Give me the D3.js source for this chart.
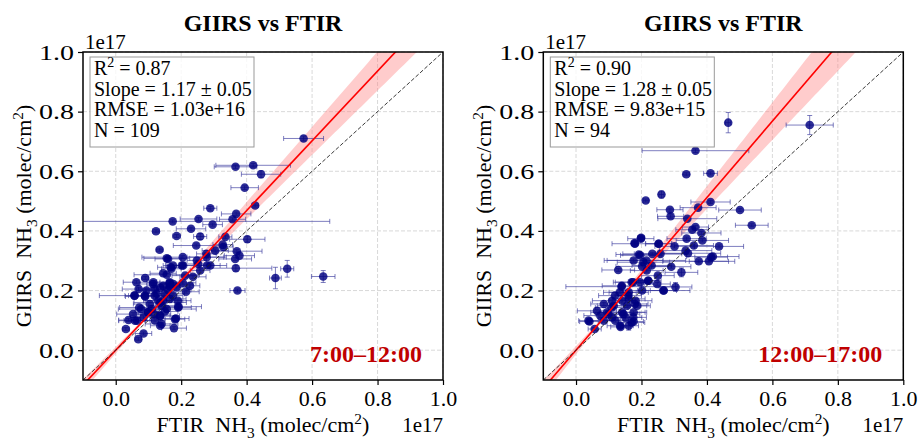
<!DOCTYPE html>
<html>
<head>
<meta charset="utf-8">
<script src="https://cdn.jsdelivr.net/npm/d3@7"></script>
<style>
body { margin: 0; background: #fff; }
text { font-family: "Liberation Serif", "Times New Roman", serif; }
</style>
</head>
<body>
<svg id="chart" width="920" height="443"></svg>
<script>
// values in units of 1e17 molec/cm2
// panel 1: 7:00-12:00
var ftir1  = [0.574,0.366,0.420,0.444,0.394,0.426,0.289,0.368,0.253,0.174,0.357,0.296,0.230,0.123,0.186,0.258,0.402,0.335,0.246,0.134,
              0.304,0.329,0.370,0.378,0.205,0.156,0.248,0.202,0.168,0.279,0.367,0.524,0.488,0.634,0.372,0.212,0.156,0.090,0.115,0.070,
              0.057,0.090,0.125,0.166,0.176,0.136,0.190,0.136,0.072,0.110,0.156,0.192,0.136,0.118,0.085,0.039,0.059,0.184,0.031,0.085,
              0.069,0.136,0.178,0.258,0.227,0.205,0.063,0.145,0.058,0.119,0.150,0.175,0.104,0.140,0.078,0.053,0.099,0.181,0.065,0.140,
              0.145,0.165,0.094,0.160,0.186,0.130,0.160,0.175,0.206,0.145,0.170,0.165,0.119,0.252,0.277,0.327,0.365,0.278,0.289,0.114,
              0.165,0.089,0.191,0.135,0.099,0.236,0.215,0.150,0.120];
var giirs1 = [0.710,0.615,0.620,0.590,0.545,0.485,0.476,0.457,0.440,0.432,0.439,0.421,0.407,0.399,0.383,0.381,0.372,0.380,0.351,0.337,
              0.334,0.346,0.332,0.317,0.312,0.308,0.301,0.284,0.278,0.284,0.275,0.273,0.242,0.247,0.200,0.250,0.253,0.242,0.228,0.205,
              0.183,0.180,0.189,0.213,0.222,0.209,0.166,0.160,0.143,0.138,0.138,0.146,0.115,0.121,0.110,0.101,0.099,0.106,0.071,0.056,
              0.037,0.082,0.074,0.267,0.216,0.226,0.228,0.216,0.183,0.183,0.189,0.183,0.155,0.149,0.138,0.121,0.127,0.104,0.099,0.088,
              0.166,0.172,0.200,0.202,0.211,0.166,0.306,0.284,0.284,0.258,0.273,0.228,0.205,0.289,0.323,0.354,0.306,0.312,0.284,0.222,
              0.224,0.183,0.143,0.115,0.127,0.246,0.196,0.130,0.100];
var xerr1  = [0.061,0.065,0.114,0.060,0.042,0.010,0.020,0.045,0.056,0.480,0.040,0.030,0.045,0.010,0.012,0.020,0.054,0.020,0.070,0.010,
              0.040,0.030,0.077,0.046,0.125,0.070,0.030,0.050,0.040,0.040,0.110,0.020,0.018,0.036,0.023,0.040,0.100,0.010,0.020,0.050,
              0.107,0.060,0.040,0.050,0.060,0.030,0.040,0.080,0.060,0.050,0.090,0.070,0.030,0.050,0.040,0.030,0.050,0.040,0.010,0.025,
              0.010,0.030,0.038,0.030,0.030,0.040,0.040,0.050,0.030,0.040,0.060,0.030,0.050,0.040,0.070,0.050,0.040,0.030,0.040,0.050,
              0.060,0.050,0.030,0.070,0.040,0.040,0.040,0.030,0.050,0.040,0.030,0.040,0.050,0.040,0.030,0.030,0.050,0.060,0.050,0.040,
              0.030,0.050,0.040,0.060,0.030,0.040,0.040,0.040,0.030];
var yerr1  = [0.008,0.006,0.006,0.012,0.006,0.005,0.006,0.006,0.005,0.005,0.005,0.005,0.005,0.005,0.005,0.010,0.010,0.005,0.005,0.005,
              0.005,0.005,0.005,0.005,0.005,0.005,0.005,0.005,0.005,0.005,0.010,0.028,0.036,0.020,0.005,0.005,0.005,0.005,0.005,0.005,
              0.005,0.005,0.005,0.005,0.005,0.005,0.005,0.005,0.005,0.005,0.005,0.005,0.005,0.005,0.005,0.005,0.005,0.005,0.005,0.005,
              0.005,0.005,0.005,0.005,0.005,0.005,0.005,0.005,0.005,0.005,0.005,0.005,0.005,0.005,0.005,0.005,0.005,0.005,0.005,0.005,
              0.005,0.005,0.005,0.005,0.005,0.005,0.005,0.005,0.005,0.005,0.005,0.005,0.005,0.005,0.005,0.005,0.005,0.005,0.005,0.005,
              0.005,0.005,0.005,0.005,0.005,0.005,0.005,0.005,0.005];

// panel 2: 12:00-17:00
var ftir2  = [0.465,0.714,0.365,0.337,0.411,0.261,0.213,0.411,0.373,0.287,0.501,0.289,0.340,0.537,0.355,0.365,0.383,0.338,0.386,0.199,
              0.179,0.253,0.301,0.360,0.437,0.335,0.342,0.192,0.233,0.258,0.413,0.418,0.375,0.406,0.215,0.176,0.202,0.291,0.129,0.322,
              0.250,0.220,0.174,0.304,0.248,0.202,0.268,0.139,0.134,0.161,0.161,0.110,0.141,0.182,0.085,0.115,0.156,0.187,0.064,0.095,
              0.141,0.176,0.074,0.110,0.151,0.041,0.085,0.120,0.176,0.057,0.136,0.161,0.180,0.198,0.252,0.196,0.206,0.231,0.216,0.140,
              0.170,0.221,0.196,0.267,0.119,0.160,0.180,0.109,0.099,0.145,0.175,0.038,0.135,0.170];
var giirs2 = [0.763,0.755,0.669,0.590,0.593,0.522,0.502,0.497,0.478,0.471,0.470,0.449,0.441,0.419,0.404,0.413,0.393,0.374,0.368,0.377,
              0.359,0.357,0.348,0.351,0.348,0.334,0.325,0.321,0.323,0.323,0.312,0.314,0.298,0.298,0.301,0.301,0.281,0.280,0.269,0.261,
              0.250,0.233,0.228,0.212,0.222,0.200,0.200,0.213,0.194,0.194,0.172,0.166,0.166,0.166,0.155,0.149,0.149,0.149,0.132,0.127,
              0.127,0.127,0.116,0.110,0.110,0.096,0.099,0.099,0.096,0.071,0.078,0.082,0.357,0.374,0.357,0.318,0.295,0.284,0.267,0.216,
              0.228,0.233,0.228,0.200,0.183,0.183,0.155,0.143,0.121,0.121,0.110,0.099,0.082,0.093];
var xerr2  = [0.008,0.072,0.163,0.010,0.021,0.008,0.008,0.060,0.055,0.040,0.065,0.040,0.090,0.050,0.050,0.040,0.060,0.060,0.080,0.010,
              0.010,0.040,0.060,0.060,0.075,0.080,0.100,0.070,0.090,0.080,0.050,0.080,0.110,0.060,0.120,0.090,0.080,0.060,0.050,0.050,
              0.050,0.040,0.060,0.050,0.040,0.060,0.080,0.170,0.050,0.060,0.050,0.060,0.040,0.050,0.040,0.050,0.060,0.040,0.060,0.050,
              0.070,0.040,0.050,0.040,0.050,0.030,0.050,0.040,0.030,0.020,0.030,0.030,0.070,0.040,0.040,0.060,0.080,0.060,0.050,0.060,
              0.050,0.030,0.030,0.040,0.050,0.040,0.040,0.050,0.040,0.050,0.040,0.030,0.040,0.040];
var yerr2  = [0.034,0.032,0.006,0.005,0.005,0.012,0.005,0.005,0.005,0.005,0.005,0.005,0.005,0.005,0.005,0.005,0.005,0.005,0.005,0.005,
              0.005,0.005,0.005,0.005,0.005,0.005,0.005,0.005,0.005,0.005,0.005,0.005,0.005,0.005,0.005,0.005,0.005,0.005,0.005,0.015,
              0.005,0.005,0.005,0.015,0.005,0.005,0.005,0.005,0.005,0.005,0.005,0.005,0.005,0.005,0.005,0.005,0.005,0.005,0.005,0.005,
              0.005,0.005,0.005,0.005,0.005,0.005,0.005,0.005,0.005,0.005,0.005,0.015,0.005,0.005,0.005,0.005,0.005,0.005,0.005,0.005,
              0.005,0.005,0.005,0.005,0.005,0.005,0.005,0.005,0.005,0.005,0.005,0.005,0.005,0.005];

var slopes = [1.17, 1.28];
var intercepts = [0.0, 0.0];
var bandSpread = [0.093, 0.125];
var bandPivot = [0.1, 0.1];
var r2 = ["0.87", "0.90"];
var slopeText = ["1.17 \u00b1 0.05", "1.28 \u00b1 0.05"];
var rmseText = ["1.03e+16", "9.83e+15"];
var nText = ["109", "94"];
var periods = ["7:00\u201312:00", "12:00\u201317:00"];
var ticks = [0.0, 0.2, 0.4, 0.6, 0.8, 1.0];
var tickLabels = ["0.0", "0.2", "0.4", "0.6", "0.8", "1.0"];

var svg = d3.select('#chart');
var fs = 22;

function rich(t, parts, size) {
	var shift = 0;
	parts.forEach(function (p) {
		var s = p[1] === 'sup' ? -0.38 * size : (p[1] === 'sub' ? 0.25 * size : 0);
		t.append('tspan').attr('dy', s - shift).attr('font-size', s ? size * 0.7 : size).text(p[0]);
		shift = s;
	});
}

var panels = [
	{x: ftir1, y: giirs1, xe: xerr1, ye: yerr1, left: 83},
	{x: ftir2, y: giirs2, xe: xerr2, ye: yerr2, left: 543.3}
];

panels.forEach(function (p, k) {
	var x0 = p.left, x1 = p.left + 360, y0 = 52, y1 = 380;
	var x = d3.scaleLinear().domain([-0.1, 1.0]).range([x0, x1]);
	var y = d3.scaleLinear().domain([-0.1, 1.0]).range([y1, y0]);
	var g = svg.append('g');

	g.append('clipPath').attr('id', 'clip' + k)
		.append('rect').attr('x', x0).attr('y', y0).attr('width', x1 - x0).attr('height', y1 - y0);

	// grid
	g.append('g').selectAll('line').data(ticks).enter().append('line')
		.attr('x1', function (d) { return x(d); }).attr('x2', function (d) { return x(d); })
		.attr('y1', y0).attr('y2', y1)
		.attr('stroke', '#cfcfcf').attr('stroke-width', 0.8).attr('stroke-dasharray', '4,2');
	g.append('g').selectAll('line').data(ticks).enter().append('line')
		.attr('y1', function (d) { return y(d); }).attr('y2', function (d) { return y(d); })
		.attr('x1', x0).attr('x2', x1)
		.attr('stroke', '#cfcfcf').attr('stroke-width', 0.8).attr('stroke-dasharray', '4,2');

	var plot = g.append('g').attr('clip-path', 'url(#clip' + k + ')');

	// confidence band
	var xs = d3.range(-0.1, 1.001, 0.01);
	var hw = function (v) { return Math.sqrt(0.006 * 0.006 + Math.pow(bandSpread[k] * (v - bandPivot[k]), 2)); };
	var fit = function (v) { return intercepts[k] + slopes[k] * v; };
	plot.append('path').datum(xs)
		.attr('d', d3.area()
			.x(function (d) { return x(d); })
			.y0(function (d) { return y(fit(d) - hw(d)); })
			.y1(function (d) { return y(fit(d) + hw(d)); }))
		.attr('fill', '#ff8080').attr('fill-opacity', 0.4);

	var idx = d3.range(p.x.length);
	var ecol = '#3b3b9e';
	var eb = plot.append('g').attr('stroke', ecol).attr('stroke-opacity', 0.65).attr('stroke-width', 1);
	eb.selectAll('.xe').data(idx).enter().append('line')
		.attr('x1', function (i) { return x(p.x[i] - p.xe[i]); })
		.attr('x2', function (i) { return x(p.x[i] + p.xe[i]); })
		.attr('y1', function (i) { return y(p.y[i]); })
		.attr('y2', function (i) { return y(p.y[i]); });
	[-1, 1].forEach(function (sgn) {
		eb.selectAll('.xc' + sgn).data(idx).enter().append('line')
			.attr('x1', function (i) { return x(p.x[i] + sgn * p.xe[i]); })
			.attr('x2', function (i) { return x(p.x[i] + sgn * p.xe[i]); })
			.attr('y1', function (i) { return y(p.y[i]) - 2.5; })
			.attr('y2', function (i) { return y(p.y[i]) + 2.5; });
		eb.selectAll('.yc' + sgn).data(idx).enter().append('line')
			.attr('y1', function (i) { return y(p.y[i] + sgn * p.ye[i]); })
			.attr('y2', function (i) { return y(p.y[i] + sgn * p.ye[i]); })
			.attr('x1', function (i) { return x(p.x[i]) - 2.5; })
			.attr('x2', function (i) { return x(p.x[i]) + 2.5; });
	});
	eb.selectAll('.ye').data(idx).enter().append('line')
		.attr('x1', function (i) { return x(p.x[i]); })
		.attr('x2', function (i) { return x(p.x[i]); })
		.attr('y1', function (i) { return y(p.y[i] - p.ye[i]); })
		.attr('y2', function (i) { return y(p.y[i] + p.ye[i]); });

	plot.append('g').selectAll('circle').data(idx).enter().append('circle')
		.attr('cx', function (i) { return x(p.x[i]); })
		.attr('cy', function (i) { return y(p.y[i]); })
		.attr('r', 4.3)
		.attr('fill', '#000080').attr('fill-opacity', 0.82);

	// fit line and 1:1 line
	plot.append('line')
		.attr('x1', x(-0.1)).attr('y1', y(fit(-0.1)))
		.attr('x2', x(1.0)).attr('y2', y(fit(1.0)))
		.attr('stroke', '#ff0000').attr('stroke-width', 1.6);
	plot.append('line')
		.attr('x1', x(-0.1)).attr('y1', y(-0.1))
		.attr('x2', x(1.0)).attr('y2', y(1.0))
		.attr('stroke', '#222').attr('stroke-width', 0.9).attr('stroke-dasharray', '4,2');

	// axes
	var xAxis = d3.axisBottom(x).tickValues(ticks).tickSize(5).tickPadding(5)
		.tickFormat(function (d, i) { return tickLabels[i]; });
	var yAxis = d3.axisLeft(y).tickValues(ticks).tickSize(5).tickPadding(4)
		.tickFormat(function (d, i) { return tickLabels[i]; });
	var ax = g.append('g').attr('transform', 'translate(0,' + y1 + ')').call(xAxis);
	var ay = g.append('g').attr('transform', 'translate(' + x0 + ',0)').call(yAxis);
	[ax, ay].forEach(function (a) {
		a.select('.domain').remove();
		a.selectAll('line').attr('stroke', '#000').attr('stroke-width', 1.2);
		a.selectAll('text').attr('font-size', fs).attr('fill', '#000')
			.attr('font-family', '"Liberation Serif", serif');
	});
	// y tick labels are drawn a little wider in the original
	ay.selectAll('text').attr('textLength', 35).attr('lengthAdjust', 'spacingAndGlyphs');
	g.append('rect').attr('x', x0).attr('y', y0).attr('width', x1 - x0).attr('height', y1 - y0)
		.attr('fill', 'none').attr('stroke', '#000').attr('stroke-width', 1.5);

	// offset labels
	g.append('text').attr('x', x0 + 2).attr('y', y0 - 3).attr('font-size', 21).text('1e17');
	g.append('text').attr('x', x1).attr('y', 432).attr('text-anchor', 'end').attr('font-size', 21).text('1e17');

	// title
	g.append('text').attr('x', (x0 + x1) / 2).attr('y', 31).attr('text-anchor', 'middle')
		.attr('font-size', 24).attr('font-weight', 'bold').text('GIIRS vs FTIR');

	// axis labels
	rich(g.append('text').attr('x', (x0 + x1) / 2).attr('y', 432).attr('text-anchor', 'middle'),
		[['FTIR\u00a0 NH', 'n'], ['3', 'sub'], [' (molec/cm', 'n'], ['2', 'sup'], [')', 'n']], fs);
	rich(g.append('text').attr('transform', 'translate(' + (x0 - 52) + ',' + ((y0 + y1) / 2) + ') rotate(-90)')
		.attr('text-anchor', 'middle'),
		[['GIIRS\u00a0 NH', 'n'], ['3', 'sub'], [' (molec/cm', 'n'], ['2', 'sup'], [')', 'n']], fs);

	// stats box
	g.append('rect').attr('x', x0 + 7).attr('y', y0 + 5).attr('width', 164).attr('height', 90)
		.attr('fill', '#fff').attr('fill-opacity', 0.8).attr('stroke', '#999').attr('stroke-width', 1);
	var tx = x0 + 11, lh = 20.7, ty = 75;
	rich(g.append('text').attr('x', tx).attr('y', ty), [['R', 'n'], ['2', 'sup'], [' = ' + r2[k], 'n']], 20);
	g.append('text').attr('x', tx).attr('y', ty + lh).attr('font-size', 20).text('Slope = ' + slopeText[k]);
	g.append('text').attr('x', tx).attr('y', ty + 2 * lh).attr('font-size', 20).text('RMSE = ' + rmseText[k]);
	g.append('text').attr('x', tx).attr('y', ty + 3 * lh).attr('font-size', 20).text('N = ' + nText[k]);

	// period label
	g.append('text').attr('x', x1 - 21).attr('y', 362).attr('text-anchor', 'end')
		.attr('font-size', 24).attr('font-weight', 'bold').attr('fill', '#c00000').text(periods[k]);
});
</script>
</body>
</html>
